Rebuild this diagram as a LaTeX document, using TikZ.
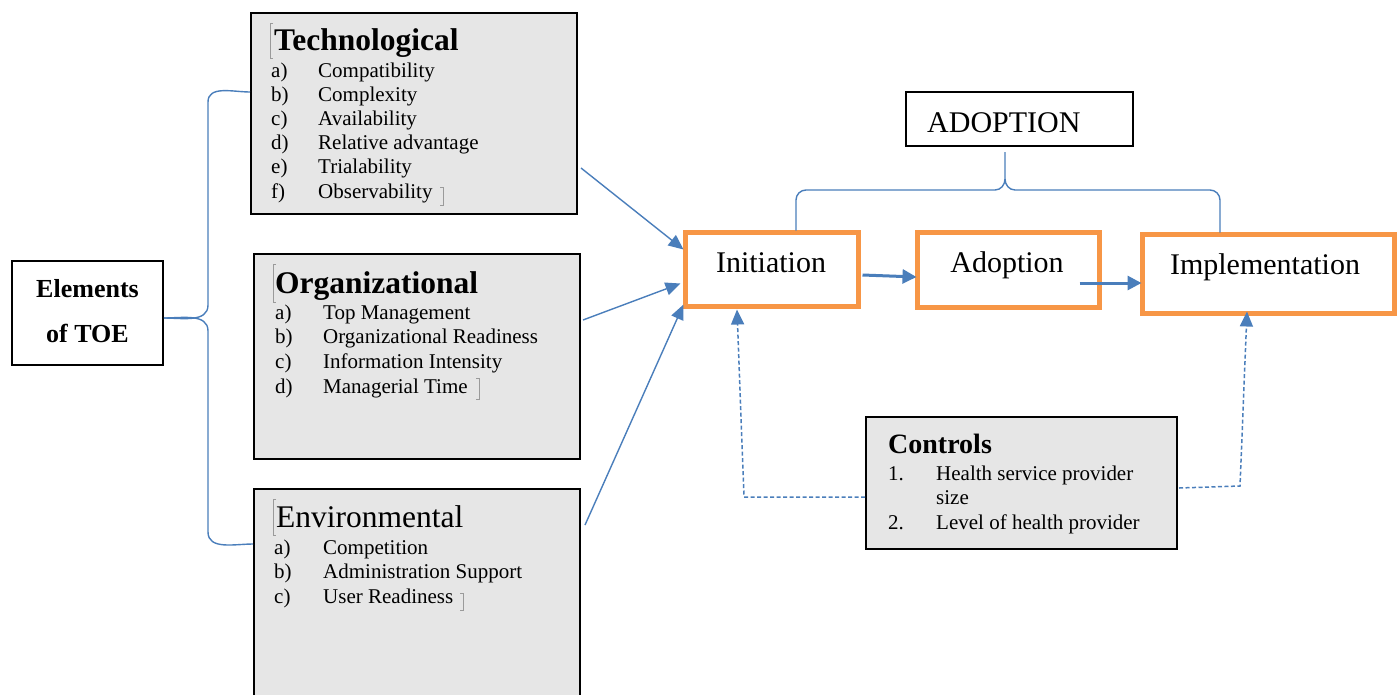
\documentclass[tikz,border=0pt]{standalone}
\usepackage{fontspec}
\setmainfont{Liberation Serif}
\usetikzlibrary{arrows.meta,calc}
\definecolor{lnblue}{HTML}{4A7EBB}
\definecolor{boxgray}{HTML}{E6E6E6}
\definecolor{orng}{HTML}{F79646}
\definecolor{brk}{HTML}{9A9A9A}
\begin{document}
\begin{tikzpicture}[x=1pt,y=-1pt,
  graybox/.style={draw=black,line width=2.5pt,fill=boxgray,inner sep=0pt,outer sep=0pt,anchor=north west},
  whitebox/.style={draw=black,line width=2pt,fill=white,inner sep=0pt,outer sep=0pt,anchor=north west},
  stepbox/.style={draw=orng,line width=5pt,fill=white,inner sep=0pt,outer sep=0pt,anchor=north west},
  lblbox/.style={draw=black,line width=1.2pt,fill=white,inner sep=0pt,outer sep=0pt,anchor=north west},
  itm/.style={anchor=base west,inner sep=0pt,font=\fontsize{21}{25}\selectfont},
  ttl/.style={anchor=base west,inner sep=0pt,font=\fontsize{31.5}{36}\selectfont\bfseries},
  ttlr/.style={anchor=base west,inner sep=0pt,font=\fontsize{31.5}{36}\selectfont},
  steptext/.style={anchor=base,inner sep=0pt,font=\fontsize{30}{34}\selectfont},
  eltext/.style={anchor=base,inner sep=0pt,font=\fontsize{26}{30}\selectfont\bfseries},
  link/.style={draw=lnblue,line width=1.4pt},
  arr/.style={link,-{Triangle[length=15pt,width=13pt]}},
  thickarr/.style={draw=lnblue,line width=3pt,-{Triangle[length=14pt,width=14pt]}},
  dasharr/.style={draw=lnblue,line width=1.5pt,dash pattern=on 4pt off 2.5pt,-{Triangle[length=15pt,width=13pt]}},
  bracket/.style={draw=brk,line width=0.8pt}
]
\useasboundingbox[fill=white] (0,0) rectangle (1400,694);

% ---------- left boxes ----------
\node[whitebox,minimum width=151pt,minimum height=104pt] (elem) at (12,261) {};
\node[eltext] (el1) at (87.5,297) {Elements};
\node[eltext] (el2) at (87.5,342) {of TOE};

\node[graybox,minimum width=326pt,minimum height=201pt] (tech) at (251,13) {};
\node[ttl] (techT) at (274,50) {Technological};
\foreach \l/\t [count=\i] in {a/Compatibility,b/Complexity,c/Availability,d/Relative advantage,e/Trialability,f/Observability}{
  \node[itm] (tl\i) at (271,{77+24.2*(\i-1)}) {\l)};
  \node[itm] (tt\i) at (318,{77+24.2*(\i-1)}) {\t};
}
\draw[bracket] (273,23) -- (270,23) -- (270,58) -- (273,58);
\draw[bracket] (440,187) -- (443,187) -- (443,205) -- (440,205);

\node[graybox,minimum width=326pt,minimum height=205pt] (org) at (254,254) {};
\node[ttl] (orgT) at (275,293) {Organizational};
\foreach \l/\t [count=\i] in {a/Top Management,b/Organizational Readiness,c/Information Intensity,d/Managerial Time}{
  \node[itm] (ol\i) at (275,{319+24.7*(\i-1)}) {\l)};
  \node[itm] (ot\i) at (323,{319+24.7*(\i-1)}) {\t};
}
\draw[bracket] (276,264) -- (273,264) -- (273,302) -- (276,302);
\draw[bracket] (476,378) -- (479,378) -- (479,399) -- (476,399);

\node[graybox,minimum width=326pt,minimum height=220pt] (env) at (254,489) {};
\node[ttlr] (envT) at (276,527) {Environmental};
\foreach \l/\t [count=\i] in {a/Competition,b/Administration Support,c/User Readiness}{
  \node[itm] (el\i) at (274,{554+24.5*(\i-1)}) {\l)};
  \node[itm] (et\i) at (323,{554+24.5*(\i-1)}) {\t};
}
\draw[bracket] (276,499) -- (273,499) -- (273,535) -- (276,535);
\draw[bracket] (460,593) -- (463,593) -- (463,610) -- (460,610);

% ---------- left brace ----------
\coordinate (jn) at ($(elem.east)+(1,5)$);
\draw[link] (jn) to[out=0,in=-90] (208,305) -- (208,102) to[out=90,in=180] ($(tech.north west)+(-1,79)$);
\draw[link] (jn) to[out=0,in=90] (208,331) -- (208,532) to[out=-90,in=180] ($(env.north west)+(-1,55)$);

% ---------- stages ----------
\node[stepbox,minimum width=173pt,minimum height=74pt] (init) at (685.5,232.5) {};
\node[steptext] (initT) at (771,272) {Initiation};
\node[stepbox,minimum width=182pt,minimum height=75pt] (adop) at (917.5,232.5) {};
\node[steptext] (adopT) at (1007,272) {Adoption};
\node[stepbox,minimum width=252pt,minimum height=79pt] (impl) at (1142.5,234.5) {};
\node[steptext] (implT) at (1265,274) {Implementation};

\node[lblbox,minimum width=227pt,minimum height=54pt] (adlbl) at (906,92) {};
\node[anchor=base west,inner sep=0pt,font=\fontsize{30}{34}\selectfont] (adlblT) at (927,132) {ADOPTION};

% ADOPTION brace
\coordinate (tipA) at ($(adlbl.south west)+(99,6)$);
\coordinate (bm) at (1005,179);
\draw[link] (tipA) -- (bm) to[out=-90,in=0] (995,190) -- (806,190) to[out=180,in=90] (796,200) -- ($(init.north west)+(110.5,-2)$);
\draw[link] (bm) to[out=-90,in=180] (1015,190) -- (1210,190) to[out=0,in=90] (1220,200) -- ($(impl.north west)+(77.5,-2)$);

% arrows into Initiation
\draw[arr] ($(tech.north east)+(4,155)$) -- ($(init.north west)+(-2,17)$);
\draw[arr] ($(org.north east)+(3,66)$) -- ($(init.north west)+(-5,51)$);
\draw[arr] ($(env.north east)+(5,36)$) -- ($(init.north west)+(-2,72)$);

% stage arrows
\draw[thickarr] ($(init.north east)+(4,42.5)$) -- ($(adop.north west)+(-1,44.5)$);
\draw[thickarr] ($(adop.north east)+(-20,50.5)$) -- ($(impl.north west)+(-1,48.5)$);

% ---------- controls ----------
\node[graybox,minimum width=311pt,minimum height=132pt] (ctrl) at (866,417) {};
\node[anchor=base west,inner sep=0pt,font=\fontsize{28}{32}\selectfont\bfseries] (ctrlT) at (888,453) {Controls};
\node[itm] (c1l) at (888,480) {1.};
\node[itm] (c1) at (936,480) {Health service provider};
\node[itm] (c1b) at (936,504) {size};
\node[itm] (c2l) at (888,529) {2.};
\node[itm] (c2) at (936,529) {Level of health provider};

\draw[dasharr] ($(ctrl.north west)+(-1,80)$) -- (744,497) -- ($(init.south west)+(51.5,3)$);
\draw[dasharr] ($(ctrl.north east)+(2,71)$) -- (1240,486) -- ($(impl.south west)+(104.5,-2)$);
\end{tikzpicture}
\end{document}
